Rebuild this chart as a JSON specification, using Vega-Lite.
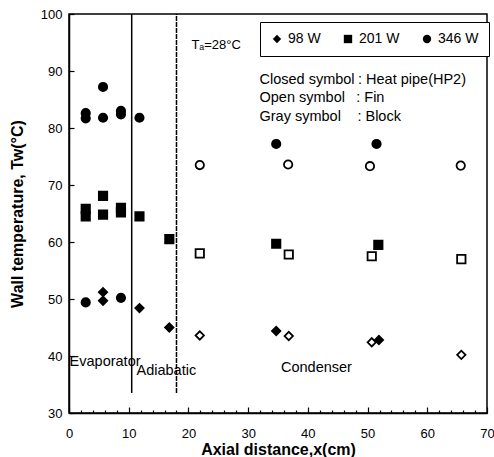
{
  "$schema": "https://vega.github.io/schema/vega-lite/v6.json",
  "width": 418,
  "height": 399,
  "autosize": {"type": "none"},
  "padding": {"left": 69, "top": 14, "right": 7, "bottom": 44},
  "background": "white",
  "config": {
    "font": "Liberation Sans",
    "view": {"stroke": "black", "strokeWidth": 1.5},
    "axis": {
      "grid": false,
      "domainColor": "black",
      "domainWidth": 1.5,
      "tickColor": "black",
      "tickWidth": 1.2,
      "labelColor": "black",
      "labelFont": "Liberation Sans",
      "labelFontSize": 13,
      "labelOverlap": false,
      "titleColor": "black",
      "titleFont": "Liberation Sans",
      "titleFontSize": 16,
      "titleFontWeight": "bold"
    }
  },
  "resolve": {"axis": {"x": "independent"}},
  "datasets": {
    "points": [
      {"power": "346 W", "type": "closed", "x": 2.8, "y": 82.6},
      {"power": "346 W", "type": "closed", "x": 2.8, "y": 81.7},
      {"power": "346 W", "type": "closed", "x": 5.7, "y": 87.2},
      {"power": "346 W", "type": "closed", "x": 5.7, "y": 81.8},
      {"power": "346 W", "type": "closed", "x": 8.7, "y": 83.0},
      {"power": "346 W", "type": "closed", "x": 8.7, "y": 82.4},
      {"power": "346 W", "type": "closed", "x": 11.8, "y": 81.8},
      {"power": "346 W", "type": "closed", "x": 34.7, "y": 77.2},
      {"power": "346 W", "type": "closed", "x": 51.5, "y": 77.2},
      {"power": "346 W", "type": "closed", "x": 2.8, "y": 49.4},
      {"power": "346 W", "type": "closed", "x": 8.7, "y": 50.2},
      {"power": "346 W", "type": "open", "x": 21.9, "y": 73.5},
      {"power": "346 W", "type": "open", "x": 36.7, "y": 73.6},
      {"power": "346 W", "type": "open", "x": 50.4, "y": 73.3},
      {"power": "346 W", "type": "open", "x": 65.6, "y": 73.4},
      {"power": "201 W", "type": "closed", "x": 2.8, "y": 65.8},
      {"power": "201 W", "type": "closed", "x": 2.8, "y": 64.5},
      {"power": "201 W", "type": "closed", "x": 5.7, "y": 68.1},
      {"power": "201 W", "type": "closed", "x": 5.7, "y": 64.8},
      {"power": "201 W", "type": "closed", "x": 8.7, "y": 66.0},
      {"power": "201 W", "type": "closed", "x": 8.7, "y": 65.2},
      {"power": "201 W", "type": "closed", "x": 11.8, "y": 64.5},
      {"power": "201 W", "type": "closed", "x": 16.8, "y": 60.5},
      {"power": "201 W", "type": "closed", "x": 34.7, "y": 59.7},
      {"power": "201 W", "type": "closed", "x": 51.8, "y": 59.5},
      {"power": "201 W", "type": "open", "x": 21.9, "y": 58.0},
      {"power": "201 W", "type": "open", "x": 36.8, "y": 57.8},
      {"power": "201 W", "type": "open", "x": 50.7, "y": 57.5},
      {"power": "201 W", "type": "open", "x": 65.7, "y": 57.0},
      {"power": "98 W", "type": "closed", "x": 5.7, "y": 51.2},
      {"power": "98 W", "type": "closed", "x": 5.7, "y": 49.7},
      {"power": "98 W", "type": "closed", "x": 11.8, "y": 48.4},
      {"power": "98 W", "type": "closed", "x": 16.8, "y": 45.0},
      {"power": "98 W", "type": "closed", "x": 34.7, "y": 44.4},
      {"power": "98 W", "type": "closed", "x": 51.9, "y": 42.8},
      {"power": "98 W", "type": "open", "x": 21.9, "y": 43.6},
      {"power": "98 W", "type": "open", "x": 36.8, "y": 43.5},
      {"power": "98 W", "type": "open", "x": 50.7, "y": 42.4},
      {"power": "98 W", "type": "open", "x": 65.7, "y": 40.2}
    ],
    "bounds": [
      {"boundary": "evaporator/adiabatic", "x": 10.5, "y": 33.5, "y2": 100},
      {"boundary": "adiabatic/condenser", "x": 18.0, "y": 33.5, "y2": 100}
    ],
    "notes": [
      {"text": "Evaporator", "x": 0.1, "y": 38.9, "size": "big"},
      {"text": "Adiabatic", "x": 11.3, "y": 37.4, "size": "big"},
      {"text": "Condenser", "x": 35.5, "y": 37.9, "size": "big"},
      {"text": "Tₐ=28°C", "x": 20.5, "y": 94.6, "size": "small"},
      {"text": "Closed symbol", "x": 31.9, "y": 88.4, "size": "big"},
      {"text": ": Heat pipe(HP2)", "x": 48.4, "y": 88.4, "size": "big"},
      {"text": "Open symbol", "x": 31.9, "y": 85.2, "size": "big"},
      {"text": ": Fin", "x": 48.1, "y": 85.2, "size": "big"},
      {"text": "Gray symbol", "x": 31.9, "y": 81.9, "size": "big"},
      {"text": ": Block", "x": 48.3, "y": 81.9, "size": "big"}
    ]
  },
  "layer": [
    {
      "data": {"name": "points"},
      "mark": {"type": "point", "filled": true, "stroke": "black", "strokeWidth": 1.8, "size": 70, "opacity": 1},
      "encoding": {
        "x": {
          "field": "x", "type": "quantitative",
          "scale": {"domain": [0, 70], "nice": false, "zero": false},
          "axis": {
            "orient": "bottom",
            "values": [0, 10, 20, 30, 40, 50, 60, 70],
            "labelOverlap": false,
            "labelFlush": false,
            "tickSize": -6,
            "labelPadding": 20,
            "title": "Axial distance,x(cm)",
            "titlePadding": 1
          }
        },
        "y": {
          "field": "y", "type": "quantitative",
          "scale": {"domain": [30, 100], "nice": false, "zero": false},
          "axis": {
            "values": [30, 40, 50, 60, 70, 80, 90, 100],
            "labelOverlap": false,
            "labelFlush": false,
            "tickSize": -5,
            "labelPadding": 12,
            "title": "Wall temperature, Tw(°C)",
            "titlePadding": 15
          }
        },
        "shape": {
          "field": "power", "type": "nominal",
          "scale": {"domain": ["98 W", "201 W", "346 W"], "range": ["diamond", "square", "circle"]},
          "legend": {
            "title": null,
            "orient": "none",
            "legendX": 191,
            "legendY": 8,
            "direction": "horizontal",
            "columns": 3,
            "columnPadding": 20,
            "padding": 10,
            "strokeColor": "black",
            "fillColor": "white",
            "symbolFillColor": "black",
            "symbolStrokeColor": "black",
            "symbolStrokeWidth": 0,
            "symbolSize": 70,
            "symbolOpacity": 1,
            "labelFont": "Liberation Sans",
            "labelFontSize": 14,
            "labelColor": "black",
            "labelOffset": 4
          }
        },
        "fill": {"field": "type", "type": "nominal", "scale": {"domain": ["closed", "open"], "range": ["black", "white"]}, "legend": null}
      }
    },
    {
      "data": {"name": "bounds"},
      "mark": {"type": "rule", "color": "black", "strokeWidth": 1.5},
      "encoding": {
        "x": {
          "field": "x", "type": "quantitative",
          "axis": {
            "orient": "bottom",
            "values": [2, 4, 6, 8, 12, 14, 16, 18, 22, 24, 26, 28, 32, 34, 36, 38, 42, 44, 46, 48, 52, 54, 56, 58, 62, 64, 66, 68],
            "labels": false,
            "domain": false,
            "tickSize": -3,
            "title": null
          }
        },
        "y": {"field": "y", "type": "quantitative"},
        "y2": {"field": "y2"},
        "strokeDash": {"field": "boundary", "type": "nominal", "scale": {"domain": ["evaporator/adiabatic", "adiabatic/condenser"], "range": [[1, 0], [5, 1]]}, "legend": null}
      }
    },
    {
      "data": {"name": "notes"},
      "mark": {"type": "text", "align": "left", "baseline": "middle", "color": "black", "font": "Liberation Sans"},
      "encoding": {
        "x": {"field": "x", "type": "quantitative", "axis": null},
        "y": {"field": "y", "type": "quantitative"},
        "text": {"field": "text"},
        "size": {"field": "size", "type": "nominal", "scale": {"domain": ["big", "small"], "range": [14.5, 13]}, "legend": null}
      }
    }
  ]
}
